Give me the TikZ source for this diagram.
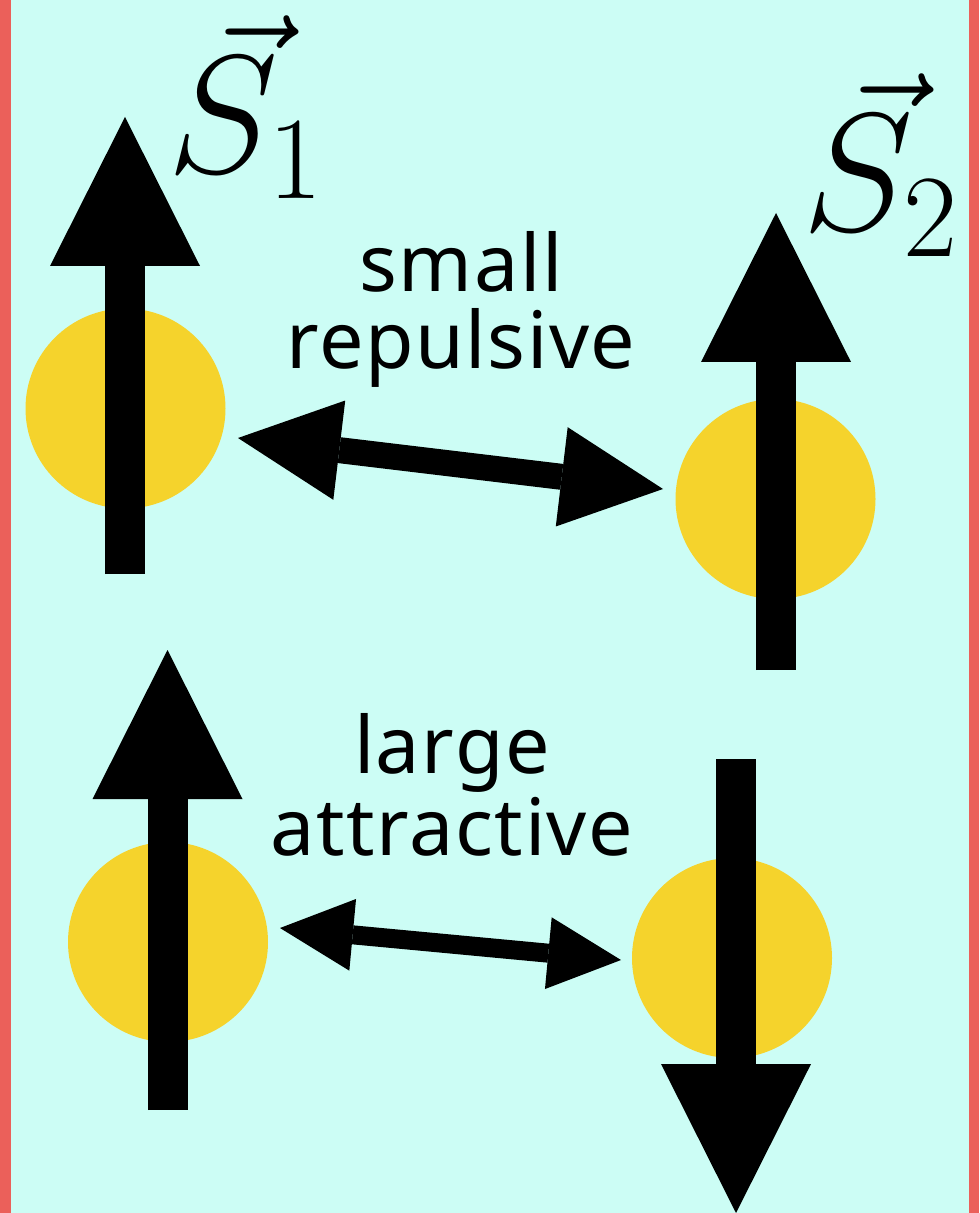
\RequirePackage{fix-cm}
\documentclass[tikz,border=0pt]{standalone}
\usepackage{fontspec}
\setsansfont{Noto Sans}[LetterSpace=2]
\usetikzlibrary{arrows.meta}
\definecolor{bgcyan}{RGB}{204,253,245}
\definecolor{edgered}{RGB}{235,96,90}
\definecolor{ballyellow}{RGB}{245,211,44}
\tikzset{
  ball/.style={circle, fill=ballyellow, minimum size=100pt, inner sep=0pt, draw=none},
  spin/.style={line width=20pt, -{Triangle[length=74.5pt,width=75pt,line width=0pt]}},
  bigforce/.style={line width=13pt, {Triangle[length=51pt,width=50pt,line width=0pt]}-{Triangle[length=51pt,width=50pt,line width=0pt]}},
  smallforce/.style={line width=9.5pt, {Triangle[length=36.5pt,width=36pt,line width=0pt]}-{Triangle[length=36.5pt,width=36pt,line width=0pt]}},
  lbl/.style={font=\sffamily\fontsize{39.5}{39.5}\selectfont, inner sep=0pt, anchor=base},
  spinlbl/.style={font=\fontsize{84}{84}\selectfont, inner sep=0pt, anchor=base west}
}
% vector S with its arrow placed as in the reference
\newcommand{\spinvec}[1]{\rlap{\kern13.5pt\raisebox{-2.5pt}{$\vec{\phantom{S}}$}}$S_{#1}$}
\begin{document}
\begin{tikzpicture}[x=0.5pt,y=-0.5pt]
\useasboundingbox (0,0) rectangle (979,1213);
\fill[bgcyan] (0,0) rectangle (979,1213);
\fill[edgered] (0,0) rectangle (11,1213);
\fill[edgered] (969,0) rectangle (979,1213);

% atoms
\node[ball] (a1) at (125.5,408.5) {};
\node[ball] (a2) at (775.5,499) {};
\node[ball] (a3) at (168,942) {};
\node[ball] (a4) at (732,958) {};

% spin arrow ends
\coordinate (s1b) at (125,574);  \coordinate (s1t) at (125,117);
\coordinate (s2b) at (776,670);  \coordinate (s2t) at (776,213);
\coordinate (s3b) at (167.5,1110); \coordinate (s3t) at (167.5,650);
\coordinate (s4b) at (736,759);  \coordinate (s4t) at (736,1213);

\draw[spin] (s1b) -- (s1t);
\draw[spin] (s2b) -- (s2t);
\draw[spin] (s3b) -- (s3t);
\draw[spin] (s4b) -- (s4t);

% interaction arrows
\coordinate (r1) at (238,438); \coordinate (r2) at (663,489);
\coordinate (q1) at (280,928); \coordinate (q2) at (621,960);
\draw[bigforce] (r1) -- (r2);
\draw[smallforce] (q1) -- (q2);

% labels
\node[lbl] (t1) at (461,292) {small};
\node[lbl] (t2) at (461,369) {repulsive};
\node[lbl] (t3) at (452,773) {large};
\node[lbl] (t4) at (452,855) {attractive};

\node[spinlbl] (S1) at (167,173) {\spinvec{1}};
\node[spinlbl] (S2) at (802,231) {\spinvec{2}};
\end{tikzpicture}
\end{document}
